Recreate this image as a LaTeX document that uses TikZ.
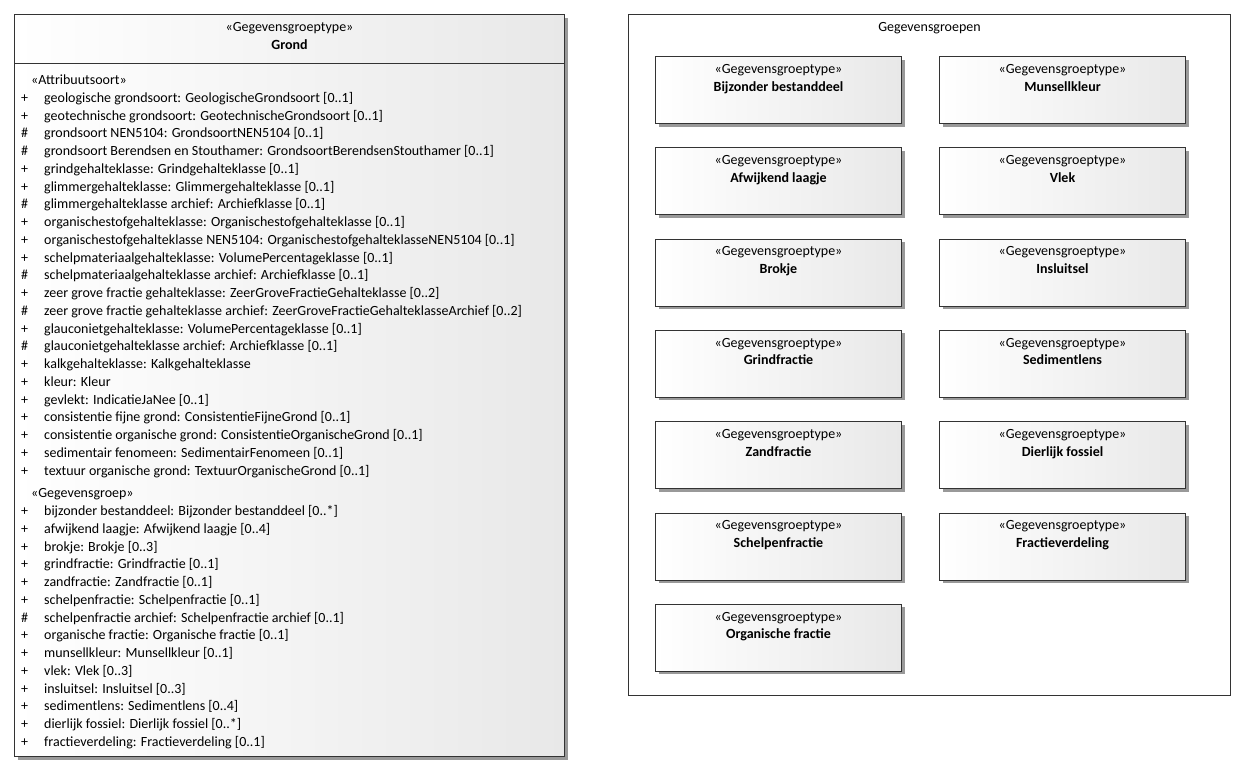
\documentclass[tikz,border=0pt]{standalone}
\usepackage{fontspec}
\setmainfont{Carlito}
\usetikzlibrary{positioning, shadows}

\begin{document}
\begin{tikzpicture}
[x=1pt, y=-1pt,
 font=\fontsize{14}{17.75}\selectfont,
 node distance=23.3pt and 37pt,
 umlbox/.style={draw=black!80, line width=1pt, inner sep=0pt,
 left color=white, right color=black!9,
 drop shadow={shadow xshift=3pt, shadow yshift=-3pt, fill=black!40, opacity=1}},
 grp/.style={umlbox, minimum width=246pt, minimum height=67pt},
 stereo/.style={anchor=north, align=center, inner sep=0pt},
]
\useasboundingbox (0,0) rectangle (1250,774);

% class Grond
\node[umlbox, minimum width=550pt, minimum height=742pt, anchor=north west] (grond) at (14,14) {};
\draw[draw=black!80, line width=1pt] ([yshift=-49pt]grond.north west) -- ([yshift=-49pt]grond.north east);
\node[stereo] (grondtitle) at ([yshift=-8pt]grond.north) {«Gegevensgroeptype»\\\textbf{Grond}};
\node[anchor=north west, inner sep=0pt] (grondattrs) at (21,72) {%
\begin{tabular}{@{}p{23pt}@{}l@{}}
\multicolumn{2}{@{\hspace{10pt}}l@{}}{«Attribuutsoort»}\\
+ & geologische grondsoort: GeologischeGrondsoort [0..1]\\
+ & geotechnische grondsoort: GeotechnischeGrondsoort [0..1]\\
\# & grondsoort NEN5104: GrondsoortNEN5104 [0..1]\\
\# & grondsoort Berendsen en Stouthamer: GrondsoortBerendsenStouthamer [0..1]\\
+ & grindgehalteklasse: Grindgehalteklasse [0..1]\\
+ & glimmergehalteklasse: Glimmergehalteklasse [0..1]\\
\# & glimmergehalteklasse archief: Archiefklasse [0..1]\\
+ & organischestofgehalteklasse: Organischestofgehalteklasse [0..1]\\
+ & organischestofgehalteklasse NEN5104: OrganischestofgehalteklasseNEN5104 [0..1]\\
+ & schelpmateriaalgehalteklasse: VolumePercentageklasse [0..1]\\
\# & schelpmateriaalgehalteklasse archief: Archiefklasse [0..1]\\
+ & zeer grove fractie gehalteklasse: ZeerGroveFractieGehalteklasse [0..2]\\
\# & zeer grove fractie gehalteklasse archief: ZeerGroveFractieGehalteklasseArchief [0..2]\\
+ & glauconietgehalteklasse: VolumePercentageklasse [0..1]\\
\# & glauconietgehalteklasse archief: Archiefklasse [0..1]\\
+ & kalkgehalteklasse: Kalkgehalteklasse\\
+ & kleur: Kleur\\
+ & gevlekt: IndicatieJaNee [0..1]\\
+ & consistentie fijne grond: ConsistentieFijneGrond [0..1]\\
+ & consistentie organische grond: ConsistentieOrganischeGrond [0..1]\\
+ & sedimentair fenomeen: SedimentairFenomeen [0..1]\\
+ & textuur organische grond: TextuurOrganischeGrond [0..1]\\[5pt]
\multicolumn{2}{@{\hspace{10pt}}l@{}}{«Gegevensgroep»}\\
+ & bijzonder bestanddeel: Bijzonder bestanddeel [0..*]\\
+ & afwijkend laagje: Afwijkend laagje [0..4]\\
+ & brokje: Brokje [0..3]\\
+ & grindfractie: Grindfractie [0..1]\\
+ & zandfractie: Zandfractie [0..1]\\
+ & schelpenfractie: Schelpenfractie [0..1]\\
\# & schelpenfractie archief: Schelpenfractie archief [0..1]\\
+ & organische fractie: Organische fractie [0..1]\\
+ & munsellkleur: Munsellkleur [0..1]\\
+ & vlek: Vlek [0..3]\\
+ & insluitsel: Insluitsel [0..3]\\
+ & sedimentlens: Sedimentlens [0..4]\\
+ & dierlijk fossiel: Dierlijk fossiel [0..*]\\
+ & fractieverdeling: Fractieverdeling [0..1]
\end{tabular}};

% package Gegevensgroepen
\node[draw=black!80, line width=1pt, fill=white, minimum width=602pt, minimum height=681pt, anchor=north west] (groepen) at (628,14) {};
\node[stereo] (groepentitle) at ([yshift=-8pt]groepen.north) {Gegevensgroepen};

\node[grp, anchor=north west] (bijzonder) at (655,56) {};
\node[grp, below=of bijzonder] (afwijkend) {};
\node[grp, below=of afwijkend] (brokje) {};
\node[grp, below=of brokje] (grind) {};
\node[grp, below=of grind] (zand) {};
\node[grp, below=of zand] (schelpen) {};
\node[grp, below=of schelpen] (organisch) {};
\node[grp, right=of bijzonder] (munsell) {};
\node[grp, below=of munsell] (vlek) {};
\node[grp, below=of vlek] (insluitsel) {};
\node[grp, below=of insluitsel] (sedimentlens) {};
\node[grp, below=of sedimentlens] (fossiel) {};
\node[grp, below=of fossiel] (verdeling) {};

\node[stereo] at ([yshift=-8pt]bijzonder.north) {«Gegevensgroeptype»\\\textbf{Bijzonder bestanddeel}};
\node[stereo] at ([yshift=-8pt]afwijkend.north) {«Gegevensgroeptype»\\\textbf{Afwijkend laagje}};
\node[stereo] at ([yshift=-8pt]brokje.north) {«Gegevensgroeptype»\\\textbf{Brokje}};
\node[stereo] at ([yshift=-8pt]grind.north) {«Gegevensgroeptype»\\\textbf{Grindfractie}};
\node[stereo] at ([yshift=-8pt]zand.north) {«Gegevensgroeptype»\\\textbf{Zandfractie}};
\node[stereo] at ([yshift=-8pt]schelpen.north) {«Gegevensgroeptype»\\\textbf{Schelpenfractie}};
\node[stereo] at ([yshift=-8pt]organisch.north) {«Gegevensgroeptype»\\\textbf{Organische fractie}};
\node[stereo] at ([yshift=-8pt]munsell.north) {«Gegevensgroeptype»\\\textbf{Munsellkleur}};
\node[stereo] at ([yshift=-8pt]vlek.north) {«Gegevensgroeptype»\\\textbf{Vlek}};
\node[stereo] at ([yshift=-8pt]insluitsel.north) {«Gegevensgroeptype»\\\textbf{Insluitsel}};
\node[stereo] at ([yshift=-8pt]sedimentlens.north) {«Gegevensgroeptype»\\\textbf{Sedimentlens}};
\node[stereo] at ([yshift=-8pt]fossiel.north) {«Gegevensgroeptype»\\\textbf{Dierlijk fossiel}};
\node[stereo] at ([yshift=-8pt]verdeling.north) {«Gegevensgroeptype»\\\textbf{Fractieverdeling}};
\end{tikzpicture}
\end{document}
